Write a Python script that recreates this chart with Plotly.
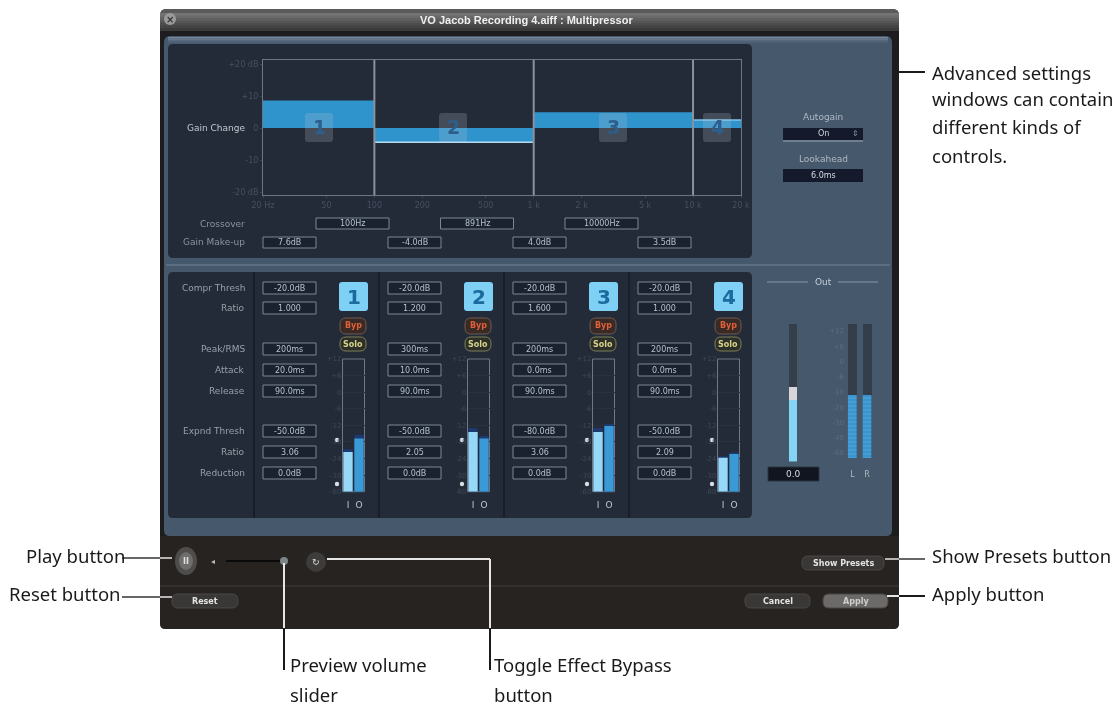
import numpy as np
import plotly.graph_objects as go

W, H = 1118, 712

# gain change display
crossover_hz = [20, 100, 1000, 10000, 20000]
band_gain_db = [8.4, -4.4, 4.7, 2.5]
band_line = ["#2f93cc", "#b5dcf0", "#2f93cc", "#7cc4e8"]
freq_ticks = [20, 50, 100, 200, 500, 1000, 2000, 5000, 10000, 20000]
freq_labels = ["20 Hz", "50", "100", "200", "500", "1 k", "2 k", "5 k", "10 k", "20 k"]
gain_ticks = [20, 10, 0, -10, -20]
gain_labels = ["+20 dB", "+10", "0", "-10", "-20 dB"]
crossover_text = ["100Hz", "891Hz", "10000Hz"]
makeup_text = ["7.6dB", "-4.0dB", "4.0dB", "3.5dB"]

# band strips
param_names = ["Compr Thresh", "Ratio", "Peak/RMS", "Attack", "Release", "Expnd Thresh", "Ratio", "Reduction"]
band1_params = ["-20.0dB", "1.000", "200ms", "20.0ms", "90.0ms", "-50.0dB", "3.06", "0.0dB"]
band2_params = ["-20.0dB", "1.200", "300ms", "10.0ms", "90.0ms", "-50.0dB", "2.05", "0.0dB"]
band3_params = ["-20.0dB", "1.600", "200ms", "0.0ms", "90.0ms", "-80.0dB", "3.06", "0.0dB"]
band4_params = ["-20.0dB", "1.000", "200ms", "0.0ms", "90.0ms", "-50.0dB", "2.09", "0.0dB"]
meter_channels = ["I", "O"]
input_pct = [30, 45, 45, 25.6]
output_pct = [40, 40, 49.5, 28.4]
input_peak_pct = [32, 48, 48, 26.5]
output_peak_pct = [43, 42, 51, 29.5]
meter_labels = ["+12", "+6", "0", "-6", "-12", "-18", "-24", "-30", "-60"]

# output section
out_channels = ["L", "R"]
out_pct = [47, 47]
out_labels = ["-60", "-40", "-30", "-20", "-10", "-6", "0", "+6", "+12"]
fader_pct = 45

fig = go.Figure()
shapes = []
notes = []


def px(x):
    return x / W


def py(y):
    return 1 - y / H


def rect(x0, y0, x1, y1, fill, line=None, lw=1, r=0, layer="below"):
    if r:
        path = (f"M {px(x0 + r)} {py(y0)} L {px(x1 - r)} {py(y0)} Q {px(x1)} {py(y0)} {px(x1)} {py(y0 + r)} "
                f"L {px(x1)} {py(y1 - r)} Q {px(x1)} {py(y1)} {px(x1 - r)} {py(y1)} L {px(x0 + r)} {py(y1)} "
                f"Q {px(x0)} {py(y1)} {px(x0)} {py(y1 - r)} L {px(x0)} {py(y0 + r)} Q {px(x0)} {py(y0)} {px(x0 + r)} {py(y0)} Z")
        shapes.append(dict(type="path", path=path, xref="paper", yref="paper", fillcolor=fill, layer=layer,
                           line=dict(color=line or "rgba(0,0,0,0)", width=lw if line else 0)))
    else:
        shapes.append(dict(type="rect", xref="paper", yref="paper", x0=px(x0), x1=px(x1), y0=py(y0), y1=py(y1),
                           fillcolor=fill, layer=layer, line=dict(color=line or "rgba(0,0,0,0)", width=lw if line else 0)))


def seg(x0, y0, x1, y1, color, w=1, layer="below"):
    shapes.append(dict(type="line", xref="paper", yref="paper", x0=px(x0), x1=px(x1), y0=py(y0), y1=py(y1),
                       layer=layer, line=dict(color=color, width=w)))


def circle(cx, cy, rx, ry, fill, layer="below"):
    shapes.append(dict(type="circle", xref="paper", yref="paper", x0=px(cx - rx), x1=px(cx + rx), y0=py(cy - ry),
                       y1=py(cy + ry), fillcolor=fill, layer=layer, line=dict(width=0)))


def text(x, y, s, size=9, color="#c8d0d8", anchor="center", bold=False, font="DejaVu Sans"):
    notes.append(dict(x=px(x), y=py(y), xref="paper", yref="paper", text=f"<b>{s}</b>" if bold else s,
                      showarrow=False, xanchor=anchor, yanchor="middle", borderpad=0,
                      font=dict(size=size, color=color, family=font)))


def value_box(x0, y0, x1, y1, s):
    rect(x0, y0, x1, y1, "rgba(10,16,26,0.3)", "#7d8792", 1)
    text((x0 + x1) / 2, (y0 + y1) / 2, s, size=8, color="#b4c0ca")


def button(x0, y0, x1, y1, fill, label, color="#e4e4e4", edge="#4a4746"):
    rect(x0, y0, x1, y1, fill, edge, 1, r=6)
    text((x0 + x1) / 2, (y0 + y1) / 2, label, size=8, color=color, bold=True)


def axes(n, x0, x1, y_top, y_bot, xa, ya):
    s = "" if n == 1 else str(n)
    fig.update_layout(**{
        f"xaxis{s}": dict(domain=[px(x0), px(x1)], anchor=f"y{s}", **xa),
        f"yaxis{s}": dict(domain=[py(y_bot), py(y_top)], anchor=f"x{s}", **ya),
    })


# window
rect(160, 9, 899, 629, "#1d1c1e", r=7)
rect(160, 9, 899, 30, "#5a5a5a", r=6)
for i, c in enumerate(["#747474", "#6a6a6a", "#606060", "#565656", "#4d4d4d", "#444444", "#3b3b3b"]):
    rect(160, 13 + i * 2.5, 899, 16 + i * 2.5, c)
circle(170, 19, 6, 6, "#9a9a9a")
text(170, 19, "×", size=10, color="#333333", bold=True)
text(526, 20, "VO Jacob Recording 4.aiff : Multipressor", size=11, color="#f0f0f0", bold=True, font="Liberation Sans")

# blue pane
rect(164, 36, 892, 536, "#46586b", r=6)
for i, c in enumerate(["#76869c", "#66768c", "#586a7f", "#4f6175"]):
    rect(168, 37 + i * 1.5, 888, 38.5 + i * 1.5, c)
rect(168, 44, 752, 258, "#232a38", r=5)
rect(168, 272, 752, 518, "#232a38", r=5)
seg(166, 265, 890, 265, "#5d6d80", 2)
for k in range(4):
    seg(254 + 125 * k, 272, 254 + 125 * k, 518, "#10141c", 1)

# bottom strip
rect(160, 536, 899, 629, "#262321", r=5)
rect(160, 536, 899, 560, "#262321")
seg(160, 586, 899, 586, "#423f3c", 1)

# controls in the bottom strip
circle(186, 561, 11, 14, "#4f4d4c")
circle(186, 561, 7, 9, "#6f6d6b")
text(186, 561, "II", size=8, color="#e0e0e0", bold=True)
text(213, 561, "◂", size=8, color="#bbbbbb")
seg(226, 561, 281, 561, "#0a0a0a", 2)
circle(284, 561, 4, 4, "#7d8587")
circle(316, 562, 10, 10, "#3e3c3b")
text(316, 562, "↻", size=9, color="#dddddd")
button(172, 594, 238, 608, "#3a3836", "Reset")
button(802, 556, 884, 570, "#3a3836", "Show Presets")
button(745, 594, 810, 608, "#3a3836", "Cancel")
button(823, 594, 888, 608, "#6b6a68", "Apply", color="#cfcfcf")

# gain display side texts and boxes
text(246, 128, "Gain Change", size=9, color="#c4c9cf", anchor="right")
text(246, 224, "Crossover", size=9, color="#8c949d", anchor="right")
text(246, 242, "Gain Make-up", size=9, color="#8c949d", anchor="right")
for k, s in enumerate(crossover_text):
    value_box(316 + 124.5 * k, 218, 389 + 124.5 * k, 229, s)
for k, s in enumerate(makeup_text):
    value_box(263 + 125 * k, 237, 316 + 125 * k, 248, s)

# gain display
axes(1, 263, 741, 60, 195,
     dict(type="log", range=[np.log10(20), np.log10(20000)], tickvals=freq_ticks, ticktext=freq_labels,
          tickfont=dict(size=8, color="#465060", family="DejaVu Sans"), showgrid=False, zeroline=False,
          showline=True, mirror=True, linecolor="#6d7682", ticks="outside", ticklen=2, tickcolor="#3c4552"),
     dict(range=[-20.9, 21.25], tickvals=gain_ticks, ticktext=gain_labels,
          tickfont=dict(size=8, color="#465060", family="DejaVu Sans"), showgrid=False, zeroline=False,
          showline=True, mirror=True, linecolor="#6d7682", ticks="outside", ticklen=2, tickcolor="#3c4552"))
for k, g in enumerate(band_gain_db):
    fig.add_trace(go.Scatter(x=[crossover_hz[k], crossover_hz[k + 1]], y=[g, g], mode="lines", fill="tozeroy",
                             fillcolor="#2f93cc", line=dict(color=band_line[k], width=1.5),
                             xaxis="x", yaxis="y", showlegend=False))
for f in crossover_hz[1:4]:
    fig.add_trace(go.Scatter(x=[f, f], y=[-20.9, 21.25], mode="lines", line=dict(color="#8a929b", width=2),
                             xaxis="x", yaxis="y", showlegend=False))
for k, cx in enumerate([319, 453, 613, 717]):
    rect(cx - 14, 113, cx + 14, 142, "rgba(190,200,210,0.22)", r=3, layer="above")
    text(cx, 127, str(k + 1), size=19, color="#2d5f8c", bold=True)

# right of the gain display
text(823, 117, "Autogain", size=9, color="#aeb8c4")
rect(783, 128, 863, 140, "#141a2c")
text(823, 134, "On", size=8, color="#ccd4dc")
text(855, 134, "⇕", size=8, color="#8a94a0")
seg(783, 141, 863, 141, "#9aa5b2", 1)
text(823, 159, "Lookahead", size=9, color="#aeb8c4")
rect(783, 169, 863, 182, "#141a2c")
text(823, 176, "6.0ms", size=8, color="#d4dce4")

# band strips
rows = [288, 308, 349, 370, 391, 431, 452, 473]
for name, y in zip(param_names, rows):
    text(246, y, name, size=9, color="#98a0a9", anchor="right")
all_params = [band1_params, band2_params, band3_params, band4_params]
for k, params in enumerate(all_params):
    dx = 125 * k
    for s, y in zip(params, rows):
        value_box(263 + dx, y - 6, 316 + dx, y + 6, s)
    rect(339 + dx, 282, 368 + dx, 311, "#7fd0f5", r=3)
    text(353.5 + dx, 297, str(k + 1), size=20, color="#1d6a9c", bold=True)
    rect(340 + dx, 318, 366 + dx, 334, "#3a2a26", "#6e5a52", 1, r=6)
    text(353 + dx, 326, "Byp", size=8, color="#e0603a", bold=True)
    rect(340 + dx, 337, 366 + dx, 351, "#2c3028", "#7e8058", 1, r=6)
    text(353 + dx, 344, "Solo", size=8, color="#d8d28a", bold=True)
    circle(337 + dx, 440, 2.2, 2.2, "#d8dde2")
    circle(337 + dx, 484, 2.2, 2.2, "#d8dde2")

    n = k + 2
    axes(n, 342.5 + dx, 364.5 + dx, 359, 491.7,
         dict(type="category", categoryorder="array", categoryarray=meter_channels, range=[-0.5, 1.5],
              tickvals=meter_channels, ticktext=meter_channels, showgrid=False, zeroline=False, showline=False,
              ticks="outside", ticklen=4, tickcolor="rgba(0,0,0,0)",
              tickfont=dict(size=9, color="#c0c6cc", family="DejaVu Sans")),
         dict(range=[0, 100], tickvals=np.linspace(0, 100, 9), ticktext=meter_labels[::-1], showgrid=True,
              gridcolor="#2a3240", zeroline=False, showline=False, ticks="",
              tickfont=dict(size=7, color="#3f4956", family="DejaVu Sans")))
    rect(342.5 + dx, 359, 364.5 + dx, 491.7, "rgba(0,0,0,0)", "#6f7883", 1)
    fig.add_trace(go.Bar(x=meter_channels, y=[input_peak_pct[k], output_peak_pct[k]], width=[0.85, 0.85],
                         marker=dict(color="#1c3a70", line=dict(width=0)),
                         xaxis=f"x{n}", yaxis=f"y{n}", showlegend=False))
    fig.add_trace(go.Bar(x=meter_channels, y=[input_pct[k], output_pct[k]], width=[0.85, 0.85],
                         marker=dict(color=["#97d8f6", "#3a9ad6"], line=dict(width=0)),
                         xaxis=f"x{n}", yaxis=f"y{n}", showlegend=False))

# output section
seg(767, 282, 808, 282, "#8896a6", 1)
seg(838, 282, 878, 282, "#8896a6", 1)
text(823, 282, "Out", size=9, color="#c2ccd6")
rect(789, 324, 797, 462, "#353f4b")
rect(768, 467, 819, 481, "#10151f", "#2a3442", 1)
text(793, 474, "0.0", size=9, color="#d4dce4")
rect(848, 324, 857, 458, "#343d4a")
rect(863, 324, 872, 458, "#343d4a")
axes(6, 789, 797, 324, 461.7,
     dict(type="category", range=[-0.5, 0.5], visible=False),
     dict(range=[0, 100], visible=False))
fig.add_trace(go.Bar(x=["Out"], y=[fader_pct], width=[1], marker=dict(color="#85d3f5", line=dict(width=0)),
                     xaxis="x6", yaxis="y6", showlegend=False))
rect(789, 387, 797, 400, "#d9d5d8", layer="above")
axes(7, 845, 874.5, 324, 458,
     dict(type="category", categoryorder="array", categoryarray=out_channels, range=[-0.5, 1.5],
          tickvals=out_channels, ticktext=out_channels, showgrid=False, zeroline=False, showline=False,
          ticks="outside", ticklen=8, tickcolor="rgba(0,0,0,0)",
          tickfont=dict(size=8, color="#aeb8c2", family="DejaVu Sans")),
     dict(range=[0, 100], tickvals=np.linspace(3.7, 94.8, 9), ticktext=out_labels, showgrid=False, zeroline=False,
          showline=False, ticks="", tickfont=dict(size=7, color="#5f6c7b", family="DejaVu Sans")))
fig.add_trace(go.Bar(x=out_channels, y=out_pct, width=[0.6, 0.6],
                     marker=dict(color="#3a94cf", line=dict(width=0),
                                 pattern=dict(shape="-", fgcolor="#6bb6e2", size=4, solidity=0.25)),
                     xaxis="x7", yaxis="y7", showlegend=False))

# callouts
INK = "#1a1a1a"
LIGHT = "#e6e6e6"
seg(122, 558, 162, 558, "#333333", 1.5, "above")
seg(160, 558, 172, 558, LIGHT, 1.5, "above")
seg(122, 597, 162, 597, "#333333", 1.5, "above")
seg(160, 597, 172, 597, LIGHT, 1.5, "above")
seg(885, 559, 899, 559, LIGHT, 1.5, "above")
seg(899, 559, 925, 559, "#333333", 1.5, "above")
seg(887, 596, 899, 596, LIGHT, 2, "above")
seg(899, 596, 925, 596, INK, 2, "above")
seg(899, 72, 925, 72, INK, 2, "above")
seg(284, 563, 284, 628, LIGHT, 2, "above")
seg(284, 628, 284, 670, INK, 2, "above")
seg(327, 559, 490, 559, LIGHT, 2, "above")
seg(490, 559, 490, 628, LIGHT, 2, "above")
seg(490, 628, 490, 670, INK, 2, "above")

LABEL = "Noto Sans"
for y, s in zip([72, 99, 127, 155], ["Advanced settings", "windows can contain", "different kinds of", "controls."]):
    text(931, y, s, size=18.5, color=INK, anchor="left", font=LABEL)
text(126, 555, "Play button", size=18.5, color=INK, anchor="right", font=LABEL)
text(122, 593, "Reset button", size=18.5, color=INK, anchor="right", font=LABEL)
text(931, 555, "Show Presets button", size=18.5, color=INK, anchor="left", font=LABEL)
text(931, 593, "Apply button", size=18.5, color=INK, anchor="left", font=LABEL)
text(289, 664, "Preview volume", size=18.5, color=INK, anchor="left", font=LABEL)
text(289, 694, "slider", size=18.5, color=INK, anchor="left", font=LABEL)
text(493, 664, "Toggle Effect Bypass", size=18.5, color=INK, anchor="left", font=LABEL)
text(493, 694, "button", size=18.5, color=INK, anchor="left", font=LABEL)

fig.update_layout(width=W, height=H, margin=dict(l=0, r=0, t=0, b=0, autoexpand=False), paper_bgcolor="white",
                  plot_bgcolor="rgba(0,0,0,0)", barmode="overlay", showlegend=False,
                  shapes=shapes, annotations=notes)

# the source is a soft screenshot, so everything gets a slight blur
blur = """
document.body.style.margin = '0';
document.body.style.overflow = 'hidden';
document.querySelectorAll('.main-svg').forEach(function (s) { s.style.filter = 'blur(0.5px)'; });
"""
fig.write_html("out.html", config={"displayModeBar": False}, post_script=blur)
